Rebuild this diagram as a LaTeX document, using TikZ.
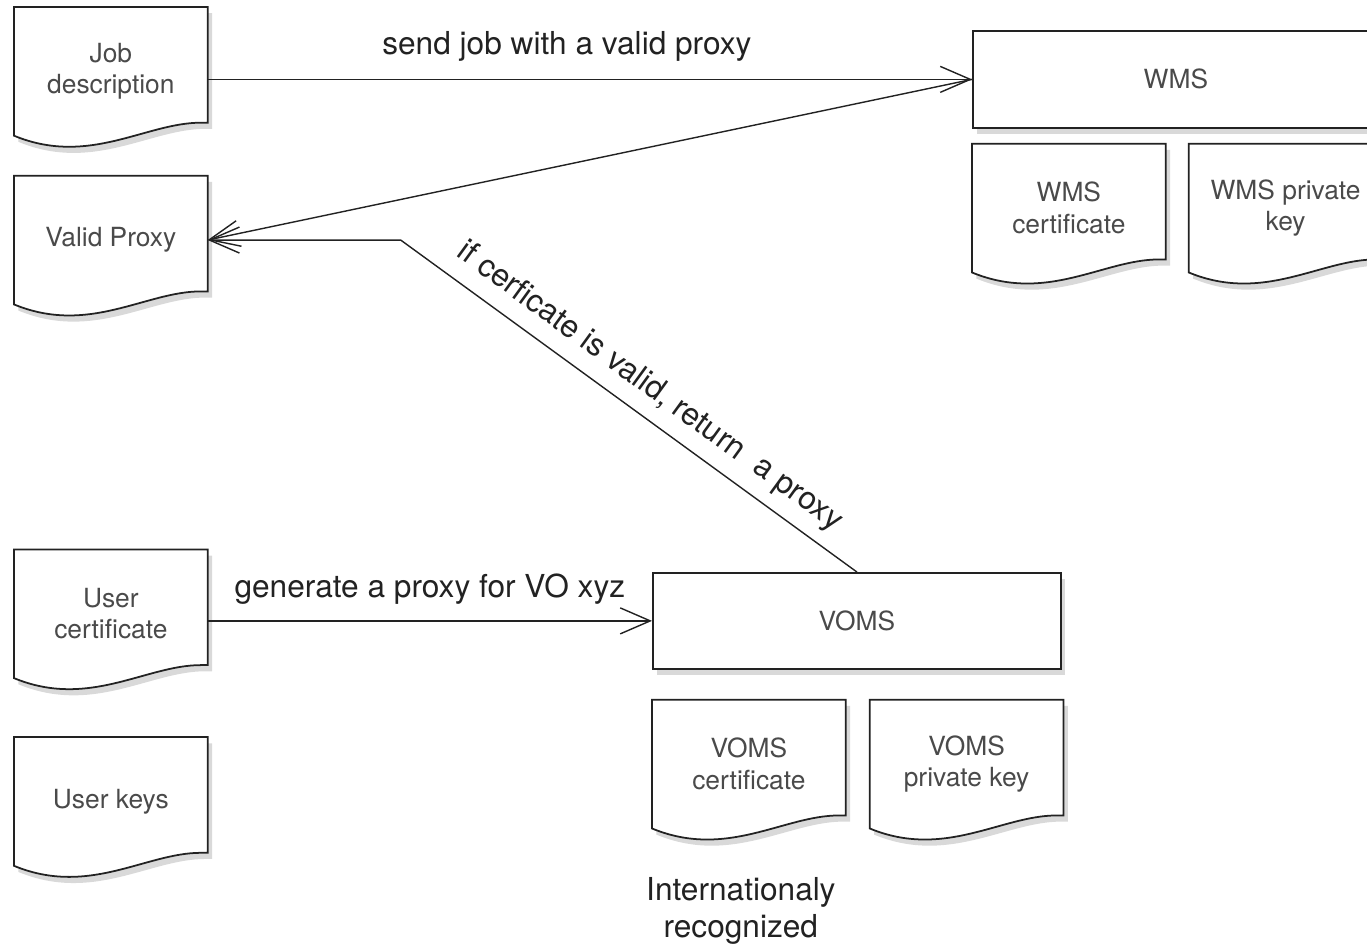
\documentclass[tikz,border=0pt]{standalone}
\usepackage{fontspec}
\setmainfont{TeX Gyre Heros}
\usetikzlibrary{positioning,calc,shadows,backgrounds,arrows.meta}
\definecolor{inkline}{HTML}{222222}
\definecolor{inktext}{HTML}{4a4a4a}
\tikzstyle{doc}=[rectangle,minimum width=3.86cm,minimum height=2.56cm,inner sep=0pt,align=center,text=inktext,font=\fontsize{15}{18}\selectfont]
\tikzstyle{softshadow}=[drop shadow={shadow xshift=2.5pt,shadow yshift=-3.5pt,opacity=0.3}]
\tikzstyle{hostbox}=[doc,draw=inkline,line width=1pt,fill=white,minimum height=1.94cm,softshadow]
\tikzstyle{docline}=[draw=inkline,line width=1pt,fill=white,softshadow]
\tikzstyle{link}=[draw=inkline,line width=0.8pt,-{Straight Barb[length=0.6cm,width=0.52cm]}]
\tikzstyle{linklabel}=[font=\fontsize{18}{21}\selectfont,text=inkline]

\begin{document}
\begin{tikzpicture}
  \useasboundingbox (0,0) rectangle (27.34,-18.88);

  % user side
  \node[doc, anchor=north west] (jobdesc) at (0.28,-0.14) {Job\\description};
  \node[doc, below=0.8cm of jobdesc] (proxy) {Valid Proxy};
  \node[doc, below=4.9cm of proxy] (usercert) {User\\certificate};
  \node[doc, below=1.18cm of usercert] (userkeys) {User keys};

  % WMS
  \node[hostbox, minimum width=8.12cm, anchor=north west] (wms) at (19.44,-0.6) {WMS};
  \node[doc, below=0.3cm of wms.south west, anchor=north west] (wmscert) {WMS\\certificate};
  \node[doc, right=0.46cm of wmscert] (wmskey) {WMS private\\key};

  % VOMS
  \node[hostbox, minimum width=8.16cm, minimum height=1.92cm, anchor=north west] (voms) at (13.04,-11.44) {VOMS};
  \node[doc, below=0.6cm of voms.south west, anchor=north west] (vomscert) {VOMS\\certificate};
  \node[doc, right=0.48cm of vomscert] (vomskey) {VOMS\\private key};
  \node[linklabel, align=center, below=0.85cm of vomscert, xshift=-0.16cm] (intl) {Internationaly\\recognized};

  % paper outlines
  \begin{scope}[on background layer]
    \foreach \d in {jobdesc,proxy,usercert,userkeys,wmscert,wmskey,vomscert,vomskey}
      \draw[docline] (\d.north west) -- (\d.north east) -- ($(\d.south east)+(0,0.26)$) -- ++(-0.14,0)
        .. controls +(-1.1,0) and +(1.5,-0.62) .. (\d.south west) -- cycle;
  \end{scope}

  % messages
  \coordinate (bend) at ($(proxy.east)+(3.86,0)$);
  \draw[link] (jobdesc.east |- wms.west) -- node[linklabel, pos=0.47, above=0.22cm] {send job with a valid proxy} (wms.west);
  \draw[link] (wms.west) -- (proxy.east);
  \draw[link] (voms.north) -- node[linklabel, sloped, pos=0.49, above=0.12cm] {if cerficate is valid, return~~a proxy} (bend) -- (proxy.east);
  \draw[link] (usercert.east |- voms.west) -- node[linklabel, above=0.2cm] {generate a proxy for VO xyz} (voms.west);
\end{tikzpicture}
\end{document}
